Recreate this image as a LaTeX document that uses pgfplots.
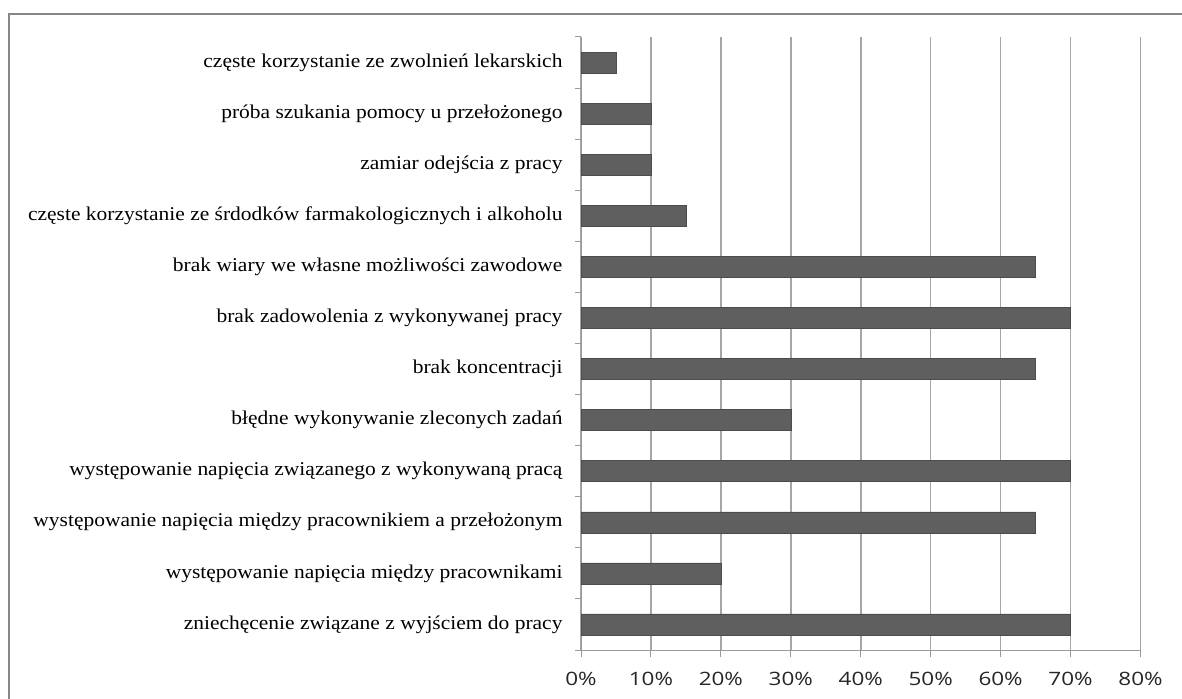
\documentclass[border=0pt]{standalone}
\usepackage{pgfplots}
\pgfplotsset{compat=1.18}
\usepackage{fontspec}
\setmainfont{Liberation Serif}[FakeStretch=1.1]
\newfontfamily\tickfont{Open Sans}[FakeStretch=1.22]
\definecolor{barc}{HTML}{5F5F5F}
\definecolor{gridc}{HTML}{A6A6A6}
\definecolor{axc}{HTML}{9A9A9A}
\definecolor{framec}{HTML}{878787}
\begin{document}
\begin{tikzpicture}
\useasboundingbox (0,0) rectangle (1182bp,699bp);
\draw[framec, line width=2bp] (9bp,-5bp) -- (9bp,685bp) -- (1190bp,685bp);
\begin{axis}[
  at={(581bp,49bp)}, anchor=south west,
  scale only axis, width=559.5bp, height=613bp,
  xbar, bar width=21bp,
  xmin=0, xmax=80, ymin=-0.5, ymax=11.5,
  axis x line*=bottom, axis y line*=left,
  axis line style={axc, line width=1bp},
  tick align=outside,
  xtick={0,10,...,80},
  xticklabels={0\%,10\%,20\%,30\%,40\%,50\%,60\%,70\%,80\%},
  xticklabel style={font=\tickfont\fontsize{18.5}{22}\selectfont, text=black!85, yshift=-12bp},
  xtick style={axc, line width=1bp},
  major tick length=7bp,
  xmajorgrids, major grid style={gridc, line width=1.5bp},
  ytick={0,...,11},
  yticklabels={zniechęcenie związane z wyjściem do pracy,
    występowanie napięcia między pracownikami,
    występowanie napięcia między pracownikiem a przełożonym,
    występowanie napięcia związanego z wykonywaną pracą,
    błędne wykonywanie zleconych zadań,
    brak koncentracji,
    brak zadowolenia z wykonywanej pracy,
    brak wiary we własne możliwości zawodowe,
    częste korzystanie ze śrdodków farmakologicznych i alkoholu,
    zamiar odejścia z pracy,
    próba szukania pomocy u przełożonego,
    częste korzystanie ze zwolnień lekarskich},
  yticklabel style={font=\fontsize{19.6}{22}\selectfont, xshift=-8bp},
  ytick style={draw=none},
  extra y ticks={-0.5,0.5,...,11.5},
  extra y tick labels={},
  extra y tick style={ytick style={axc, line width=1bp, draw=axc}, major tick length=6bp},
]
\addplot[fill=barc, draw=barc!80!black, line width=0.5bp] coordinates {
(70,0) (20,1) (65,2) (70,3) (30,4) (65,5) (70,6) (65,7) (15,8) (10,9) (10,10) (5,11)};
\end{axis}
\end{tikzpicture}
\end{document}
